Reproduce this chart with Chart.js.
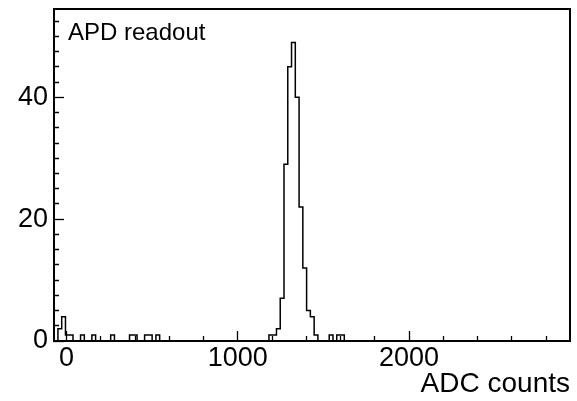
<!DOCTYPE html>
<html><head><meta charset="utf-8">
<script src="https://cdn.jsdelivr.net/npm/chart.js@4"></script>
<style>html,body{margin:0;padding:0;background:#fff;}</style>
</head><body>
<canvas id="c" width="577" height="401"></canvas>
<script>
// ---- data ----
const binLowEdge = -50;      // ADC counts, lower edge of first bin
const binWidth = 22;         // ADC counts per bin
const nBins = 136;
const filledBins = [0,1,2,3,4,7,10,15,20,21,24,25,27,57,58,59,60,61,62,63,64,65,66,67,68,69,73,75,76];
const binCounts  = [2,2,4,1,1,1,1,1,1,1,1,1,1,1,1,2,7,29,45,49,40,22,12,5,4,1,1,1,1];
const xTickLabels = [0, 1000, 2000];
const yTickLabels = [0, 20, 40];
const xMinorStep = 200;
const yMinorStep = 2.5;
const xRange = [-73, 2940];
const yRange = [0, 54.5];
const xTitle = 'ADC counts';
const panelLabel = 'APD readout';

// ---- build histogram outline ----
const countMap = new Map(filledBins.map((b, i) => [b, binCounts[i]]));
const pts = [{x: binLowEdge, y: 0}];
for (let k = 0; k < nBins; k++) pts.push({x: binLowEdge + k * binWidth, y: countMap.get(k) || 0});
pts.push({x: binLowEdge + nBins * binWidth, y: 0});

const FONT = "'Liberation Sans', Arial, Helvetica, sans-serif";

function stepTicks(step) {
  return s => {
    const t = [];
    const n0 = Math.ceil(s.min / step - 1e-9), n1 = Math.floor(s.max / step + 1e-9);
    for (let n = n0; n <= n1; n++) t.push({ value: Math.round(n * step * 1000) / 1000 });
    s.ticks = t;
  };
}

const framePlugin = {
  id: 'frame',
  afterDraw(chart) {
    const {ctx, chartArea: a} = chart;
    ctx.save();
    ctx.strokeStyle = '#000';
    ctx.lineWidth = 2;
    ctx.strokeRect(a.left, a.top, a.right - a.left, a.bottom - a.top);
    ctx.fillStyle = '#000';
    ctx.font = "24px " + FONT;
    ctx.textAlign = 'left';
    ctx.textBaseline = 'alphabetic';
    ctx.fillText(panelLabel, a.left + 14, a.top + 31);
    ctx.restore();
  }
};

new Chart(document.getElementById('c'), {
  type: 'line',
  data: { datasets: [{ data: pts, stepped: 'after', borderColor: '#000', borderWidth: 1.5,
    pointRadius: 0, fill: false, tension: 0 }] },
  options: {
    responsive: false, animation: false, events: [],
    layout: { padding: { left: 0, right: 7, top: 9, bottom: 0 } },
    plugins: { legend: { display: false }, tooltip: { enabled: false }, title: { display: false } },
    scales: {
      x: {
        type: 'linear', min: xRange[0], max: xRange[1],
        afterBuildTicks: stepTicks(xMinorStep),
        afterFit: s => { s.height = 60; s.paddingLeft = 0; s.paddingRight = 0; },
        border: { display: true, color: '#000', width: 2 },
        grid: { drawOnChartArea: false, drawTicks: true, tickLength: -10, tickColor: '#000', tickWidth: 1.3,
          tickBorderDash: c => (c.tick && xTickLabels.includes(c.tick.value)) ? [] : [6, 100] },
        ticks: { autoSkip: false, maxRotation: 0, minRotation: 0,
          padding: 11, color: '#000', font: { family: FONT, size: 27 },
          callback: v => xTickLabels.includes(v) ? String(v) : '' },
        title: { display: true, text: xTitle, align: 'end', color: '#000', padding: 0,
          font: { family: FONT, size: 28 } }
      },
      y: {
        type: 'linear', min: yRange[0], max: yRange[1],
        afterBuildTicks: stepTicks(yMinorStep),
        afterFit: s => { s.width = 54; s.paddingTop = 0; s.paddingBottom = 0; },
        border: { display: true, color: '#000', width: 2 },
        grid: { drawOnChartArea: false, drawTicks: true, tickLength: -10, tickColor: '#000', tickWidth: 1.3,
          tickBorderDash: c => (c.tick && yTickLabels.includes(c.tick.value)) ? [] : [0, 5, 6, 100] },
        ticks: { autoSkip: false,
          padding: 16, color: '#000', font: { family: FONT, size: 27 },
          callback: v => yTickLabels.includes(v) ? String(v) : '' }
      }
    }
  },
  plugins: [framePlugin]
});
</script>
</body></html>
